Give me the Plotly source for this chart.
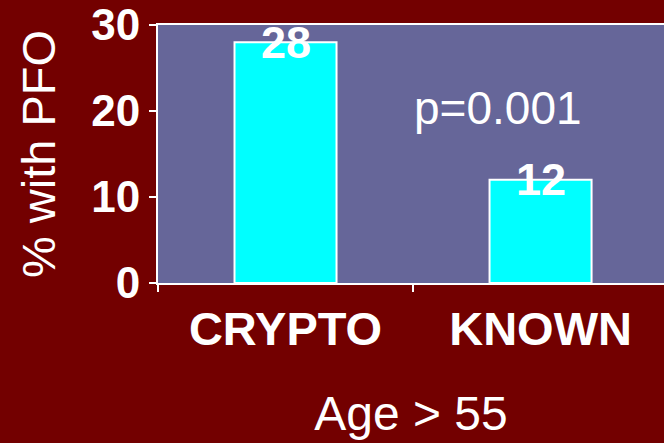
import plotly.graph_objects as go

# data
categories = ["CRYPTO", "KNOWN"]
pct_pfo = [28, 12]
y_ticks = [0, 10, 20, 30]
p_value_text = "p=0.001"

RED_BG = "#730000"
PLOT_BG = "#666699"
FONT = "Arial, Liberation Sans, sans-serif"

fig = go.Figure(go.Bar(
    x=categories,
    y=pct_pfo,
    width=0.4,
    marker=dict(color="#00FFFF", line=dict(color="white", width=2)),
    hoverinfo="skip",
))

# value labels sitting on the bar tops
for cat, val in zip(categories, pct_pfo):
    fig.add_annotation(x=cat, y=val, text=str(val), showarrow=False,
                       yanchor="middle", xanchor="center",
                       font=dict(family=FONT, size=45, color="white", weight="bold"))

fig.add_annotation(x=0.835, y=20.3, xref="x", yref="y", text=p_value_text,
                   showarrow=False, xanchor="center", yanchor="middle",
                   font=dict(family=FONT, size=46, color="white"))

fig.update_layout(
    width=664, height=443,
    margin=dict(l=158, r=0, t=25, b=160),
    paper_bgcolor=RED_BG,
    plot_bgcolor=PLOT_BG,
    font=dict(family=FONT, color="white"),
    showlegend=False,
)

fig.update_xaxes(
    range=[-0.5, 1.484],
    showline=True, linecolor="white", linewidth=2, mirror=True,
    ticks="outside", tickson="boundaries", ticklen=7, tickwidth=2, tickcolor="white",
    ticklabelstandoff=4,
    tickfont=dict(family=FONT, size=47, color="white", weight="bold"),
    title=dict(text="Age > 55", font=dict(family=FONT, size=48, color="white"), standoff=42),
    showgrid=False,
)

fig.update_yaxes(
    range=[0, 30],
    tickvals=y_ticks,
    showline=True, linecolor="white", linewidth=2,
    ticks="outside", ticklen=7, tickwidth=2, tickcolor="white",
    tickfont=dict(family=FONT, size=44, color="white", weight="bold"),
    title=dict(text="% with PFO", font=dict(family=FONT, size=47, color="white"), standoff=21),
    showgrid=False, zeroline=False,
)

# drop the page's default body margin so the figure sits flush in the window
fig.write_html("out.html", config={"displayModeBar": False}, post_script=(
    "document.body.style.margin='0';"
    "document.body.style.overflow='hidden';"
    "document.body.style.background='" + RED_BG + "';"
))
